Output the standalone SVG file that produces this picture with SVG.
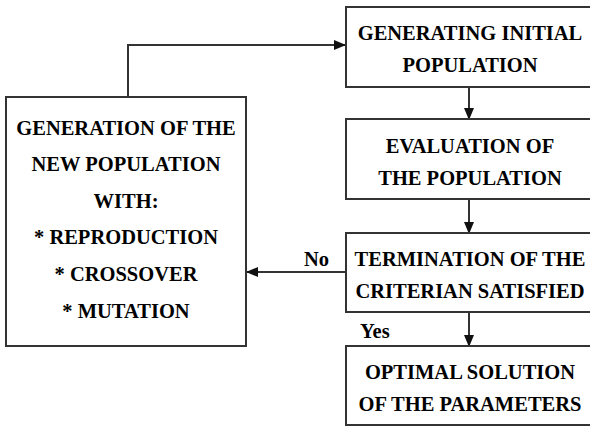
<svg xmlns="http://www.w3.org/2000/svg" width="590" height="428" viewBox="0 0 590 428">
<defs>
<marker id="ah" markerWidth="12" markerHeight="10" refX="11" refY="5" orient="auto" markerUnits="userSpaceOnUse">
<path d="M0,0 L12,5 L0,10 Z" fill="#111"/>
</marker>
</defs>
<rect width="590" height="428" fill="#fff"/>
<g id="connectors">
<g fill="none" stroke="#333" stroke-width="2" marker-end="url(#ah)">
<path d="M128,97 V45 H345"/>
<path d="M469,88 V119"/>
<path d="M469,199 V233"/>
<path d="M469,312 V346"/>
<path d="M346,272 H247"/>
</g>
<text x="304" y="266" font-family="Times New Roman" font-weight="bold" font-size="20.5">No</text>
<text x="360" y="338" font-family="Times New Roman" font-weight="bold" font-size="20.5">Yes</text>
</g>
<g id="generation" text-anchor="middle" font-family="serif" font-weight="bold" font-size="20.5">
<rect x="6" y="97" width="240" height="249" fill="#fff" stroke="#333" stroke-width="2"/>
<text x="126" y="135">GENERATION OF THE</text>
<text x="126" y="171">NEW POPULATION</text>
<text x="126" y="208">WITH:</text>
<text x="126" y="244">* REPRODUCTION</text>
<text x="126" y="281">* CROSSOVER</text>
<text x="126" y="318">* MUTATION</text>
</g>
<g id="initial">
<rect x="346" y="7" width="250" height="80" fill="#fff" stroke="#333" stroke-width="2"/>
<text x="470" y="40" text-anchor="middle" font-family="Times New Roman" font-weight="bold" font-size="20.5">GENERATING INITIAL</text>
<text x="470" y="72" text-anchor="middle" font-family="Times New Roman" font-weight="bold" font-size="20.5">POPULATION</text>
</g>
<g id="evaluation">
<rect x="346" y="119" width="250" height="80" fill="#fff" stroke="#333" stroke-width="2"/>
<text x="470" y="153" style="font-family:'Liberation Serif',serif;font-weight:bold;font-size:20.5px;text-anchor:middle">EVALUATION OF</text>
<text x="470" y="185" style="font-family:'Liberation Serif',serif;font-weight:bold;font-size:20.5px;text-anchor:middle">THE POPULATION</text>
</g>
<g id="termination">
<rect x="346" y="233" width="250" height="79" fill="#fff" stroke="#333" stroke-width="2"/>
<text x="470" y="266" text-anchor="middle" font-family="Liberation Serif" font-weight="bold" font-size="20.5">TERMINATION OF THE</text>
<text x="470" y="298" text-anchor="middle" font-family="Liberation Serif" font-weight="bold" font-size="20.5">CRITERIAN SATISFIED</text>
</g>
<g id="optimal">
<rect x="346" y="346" width="250" height="79" fill="#fff" stroke="#333" stroke-width="2"/>
<text x="470" y="379" text-anchor="middle" font-family="Liberation Serif, serif" font-weight="700" font-size="20.5">OPTIMAL SOLUTION</text>
<text x="470" y="411" text-anchor="middle" font-family="Liberation Serif, serif" font-weight="700" font-size="20.5">OF THE PARAMETERS</text>
</g>
</svg>
